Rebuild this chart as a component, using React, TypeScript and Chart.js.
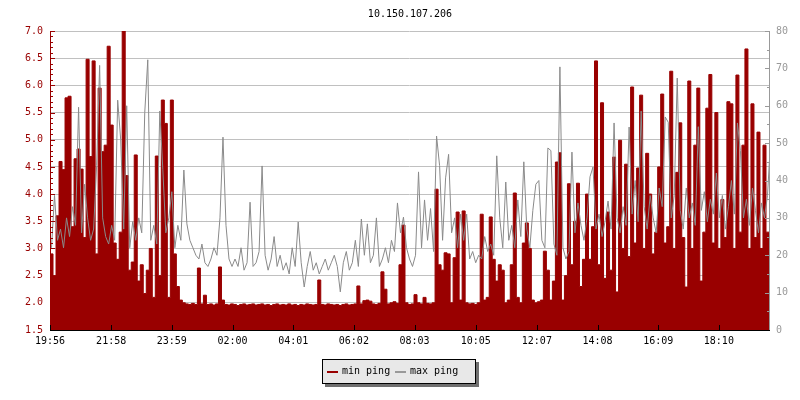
import React, { useEffect, useRef } from "react";
import { Chart, registerables } from "chart.js";

Chart.register(...registerables);

const TITLE = "10.150.107.206";
const timeLabels = ["19:56", "21:58", "23:59", "02:00", "04:01", "06:02", "08:03", "10:05", "12:07", "14:08", "16:09", "18:10"];
const tickMinutes = [0, 122, 243, 364, 485, 606, 727, 849, 971, 1092, 1213, 1334];
const stepMinutes = 6;
const spanMinutes = 1434;

// min ping (left axis)
const minPing = [
  4.2, 2.9, 2.5, 3.6, 4.6, 4.45, 5.77, 5.8, 3.4, 4.65,
  4.83, 4.46, 3.2, 6.48, 4.69, 6.45, 2.9, 5.95, 4.78, 4.9,
  6.72, 5.27, 3.1, 2.8, 3.3, 7.0, 4.34, 2.6, 2.75, 4.72,
  2.4, 2.7, 2.17, 2.6, 3.0, 2.1, 4.7, 2.5, 5.73, 5.3,
  2.1, 5.73, 2.9, 2.3, 2.05, 2.0,
  1.98, 1.97, 1.99, 1.97, 2.64, 1.98, 2.14, 1.97, 1.98, 1.96,
  1.98, 2.66, 2.05, 1.97, 1.96, 1.98, 1.97, 1.95, 1.97, 1.98,
  1.96, 1.97, 1.98, 1.96, 1.97, 1.98, 1.96, 1.97, 1.95, 1.97,
  1.98, 1.96, 1.97, 1.96, 1.98, 1.96, 1.97, 1.95, 1.97, 1.96,
  1.98, 1.97, 1.96, 1.97, 2.42, 1.97, 1.96, 1.98, 1.97, 1.96,
  1.97, 1.95, 1.97, 1.98, 1.96, 1.97, 1.98, 2.31, 1.98, 2.04,
  2.05, 2.03, 1.98, 1.97, 1.99, 2.57, 2.25, 1.98, 2.0, 2.02,
  1.99, 2.7,
  3.43, 2.0, 1.97, 1.98, 2.15, 2.0, 1.98, 2.1, 1.99, 1.98,
  2.0, 4.09, 2.7, 2.6, 2.92, 2.9, 2.0, 2.83, 3.67, 2.05,
  3.69, 2.0, 1.98, 1.99, 1.97, 2.0, 3.63, 2.05, 2.1, 3.58,
  2.8, 2.4, 2.7, 2.6, 2.0, 2.05, 2.7, 4.02, 2.1, 2.0,
  3.1, 3.47, 3.0,
  2.05, 2.0, 2.02, 2.05, 2.95, 2.6, 2.05, 2.4,
  4.59, 4.76, 2.05, 2.5, 4.19, 2.7, 3.5, 4.2, 2.3, 2.8,
  4.0, 2.8, 3.4, 6.45, 2.7, 5.68, 2.45, 3.67, 2.6, 4.68,
  2.2, 4.99, 3.0, 4.55, 2.85, 5.97, 3.1, 4.48, 5.82, 3.0,
  4.75,
  4.0, 2.9, 3.3, 4.5, 5.84, 3.1, 3.4, 6.26, 3.0, 4.4,
  5.31, 3.2, 2.29, 6.08, 3.0, 4.9, 5.95, 2.4, 3.3, 5.58,
  6.2, 3.1, 5.5, 3.0, 3.9, 3.2, 5.7, 5.66, 3.0, 6.19,
  3.3, 4.9, 6.67, 3.0, 5.66, 3.2, 5.14, 3.0, 4.9, 3.3,
];

// max ping (right axis)
const maxPing = [
  22, 36, 24, 27, 22, 30, 25, 33, 28, 59.6,
  26, 39, 30, 24, 27, 44, 70.8, 30, 25, 23,
  28, 24, 61.5, 50.9, 27, 60, 22, 29, 24, 30,
  26, 58.2, 72.3, 24, 28, 23, 58.6, 43, 26, 30,
  37, 22, 28, 24, 42.8, 28.4, 24, 22, 20, 19,
  23, 18, 17, 19, 22, 20, 30, 51.6, 28, 19,
  17, 19, 17, 22, 16, 18, 34.2, 17, 18, 21,
  43.9, 20, 16, 19, 25, 17, 20, 16, 18, 15,
  22, 17, 28.9, 18, 11.5, 17, 21, 16, 18, 15,
  17, 19, 16, 18, 20, 17, 10.2, 18, 21, 16,
  18, 24, 17, 29.7, 20, 28.4, 18, 20, 30, 17,
  19, 22, 18, 24, 21, 34, 26, 30.2, 22, 19,
  17, 20, 42.3, 22, 34.8, 24, 32.5, 21, 51.9, 44,
  24, 40.7, 47, 26, 30, 22, 31, 24, 31, 19,
  21, 18, 20, 19, 25, 21, 23, 20, 46.6, 30,
  22, 39.6, 24, 28, 22, 34.8, 25, 45, 27, 22,
  32, 39, 40, 24, 22, 48.7, 48, 23, 20, 70.4,
  22, 19, 21, 47.6, 26, 34, 28, 24, 30, 41,
  43.6, 27, 31, 25, 29, 34.5, 27, 55.4, 30, 26,
  33, 28, 54.3, 31, 40, 29, 58.6, 33, 27, 36,
  30, 26, 38, 33, 57, 55.6, 30, 36, 67.4, 32,
  27, 38, 30, 34, 28, 54.4, 32, 37, 29, 35,
  31, 42, 30, 36, 27, 33, 40, 31, 55.4, 48,
  30, 35, 28, 38, 32, 26, 34, 30, 36, 50.3,
];

const seriesNames = ["min ping", "max ping"];

const RED = "#990000";
const GREY = "#999999";
const LINE_GREY = "#8a8a8a";
const FONT = "'DejaVu Sans Mono', monospace";

function toStepPoints(vals: number[]) {
  const pts = vals.map((v, i) => ({ x: i * stepMinutes, y: v }));
  pts.push({ x: vals.length * stepMinutes, y: vals[vals.length - 1] });
  return pts;
}

function toCenterPoints(vals: number[]) {
  return vals.map((v, i) => ({ x: i * stepMinutes + stepMinutes / 2, y: v }));
}

const decor = {
  id: "decor",
  afterDatasetsDraw(chart: any) {
    const { ctx, chartArea: a, scales } = chart;
    const yl = scales.y;
    const yr = scales.y1;
    const xs = scales.x;
    ctx.save();
    ctx.lineWidth = 1;
    ctx.strokeStyle = RED;
    ctx.beginPath();
    ctx.moveTo(a.left + 0.5, a.top);
    ctx.lineTo(a.left + 0.5, a.bottom);
    for (let k = 0; k <= 55; k++) {
      const y = Math.round(yl.getPixelForValue(1.5 + k * 0.1)) + 0.5;
      const len = k % 5 === 0 ? 5 : 3;
      ctx.moveTo(a.left, y);
      ctx.lineTo(a.left + len, y);
    }
    ctx.stroke();
    ctx.strokeStyle = GREY;
    ctx.beginPath();
    ctx.moveTo(a.right + 0.5, a.top);
    ctx.lineTo(a.right + 0.5, a.bottom);
    for (let k = 0; k <= 16; k++) {
      const y = Math.round(yr.getPixelForValue(k * 5)) + 0.5;
      const len = k % 2 === 0 ? 5 : 3;
      ctx.moveTo(a.right + 1, y);
      ctx.lineTo(a.right + 1 - len, y);
    }
    ctx.stroke();
    ctx.strokeStyle = "#000";
    ctx.beginPath();
    ctx.moveTo(a.left, a.bottom + 0.5);
    ctx.lineTo(a.right + 1, a.bottom + 0.5);
    tickMinutes.forEach((m) => {
      const x = Math.round(xs.getPixelForValue(m)) + 0.5;
      ctx.moveTo(x, a.bottom);
      ctx.lineTo(x, a.bottom - 5);
    });
    ctx.stroke();
    ctx.restore();
  },
  afterDraw(chart: any) {
    const { ctx } = chart;
    ctx.save();
    ctx.font = `10px ${FONT}`;
    ctx.textBaseline = "middle";
    ctx.fillStyle = "#000";
    ctx.textAlign = "center";
    ctx.fillText(TITLE, 410, 14.5);
    ctx.fillStyle = "#6f6f6f";
    ctx.fillRect(325, 362, 154, 25);
    ctx.fillStyle = "#e8e8e8";
    ctx.fillRect(322, 359, 154, 25);
    ctx.strokeStyle = "#000";
    ctx.lineWidth = 1;
    ctx.strokeRect(322.5, 359.5, 153, 24);
    ctx.textAlign = "left";
    ctx.fillStyle = RED;
    ctx.fillRect(327, 371, 11, 2);
    ctx.fillStyle = "#000";
    ctx.fillText(seriesNames[0], 342, 371.5);
    ctx.fillStyle = GREY;
    ctx.fillRect(395, 371, 11, 2);
    ctx.fillStyle = "#000";
    ctx.fillText(seriesNames[1], 410, 371.5);
    ctx.restore();
  },
};

export default function App() {
  const ref = useRef<HTMLCanvasElement | null>(null);
  useEffect(() => {
    document.body.style.margin = "0";
    const canvas = ref.current;
    if (!canvas) return;
    const chart = new Chart(canvas, {
      type: "line",
      data: {
        datasets: [
          {
            label: seriesNames[1],
            data: toCenterPoints(maxPing),
            yAxisID: "y1",
            borderColor: LINE_GREY,
            borderWidth: 1,
            pointRadius: 0,
            tension: 0,
            fill: false,
            order: 0,
          },
          {
            label: seriesNames[0],
            data: toStepPoints(minPing),
            yAxisID: "y",
            borderColor: RED,
            backgroundColor: RED,
            borderWidth: 1,
            pointRadius: 0,
            stepped: "after",
            fill: "start",
            order: 1,
          },
        ],
      },
      options: {
        responsive: false,
        animation: false,
        devicePixelRatio: 1,
        parsing: false,
        layout: { padding: { top: 31, left: 0, right: 0, bottom: 0 } },
        plugins: {
          legend: { display: false },
          title: { display: false },
          tooltip: { enabled: false },
        },
        scales: {
          x: {
            type: "linear",
            min: 0,
            max: spanMinutes,
            grid: { display: false, drawTicks: false },
            border: { display: false },
            afterBuildTicks: (scale: any) => {
              scale.ticks = tickMinutes.map((v) => ({ value: v }));
            },
            afterFit: (scale: any) => {
              scale.height = 70;
            },
            ticks: {
              autoSkip: false,
              maxRotation: 0,
              padding: 5,
              color: "#000",
              font: { family: FONT, size: 10 },
              callback: (v: any) => {
                const idx = tickMinutes.indexOf(Number(v));
                return idx >= 0 ? timeLabels[idx] : "";
              },
            },
          },
          y: {
            position: "left",
            min: 1.5,
            max: 7.0,
            grid: { color: "#c0c0c0", lineWidth: 1, drawTicks: false },
            border: { display: false },
            afterFit: (scale: any) => {
              scale.width = 50;
            },
            ticks: {
              stepSize: 0.5,
              padding: 7,
              color: RED,
              font: { family: FONT, size: 10 },
              callback: (v: any) => Number(v).toFixed(1),
            },
          },
          y1: {
            position: "right",
            min: 0,
            max: 80,
            grid: { display: false, drawTicks: false },
            border: { display: false },
            afterFit: (scale: any) => {
              scale.width = 31;
            },
            ticks: {
              stepSize: 10,
              padding: 7,
              color: GREY,
              font: { family: FONT, size: 10 },
            },
          },
        },
      },
      plugins: [decor],
    });
    return () => chart.destroy();
  }, []);
  return (
    <div style={{ width: 800, height: 400 }}>
      <canvas ref={ref} width={800} height={400} style={{ display: "block" }} />
    </div>
  );
}
